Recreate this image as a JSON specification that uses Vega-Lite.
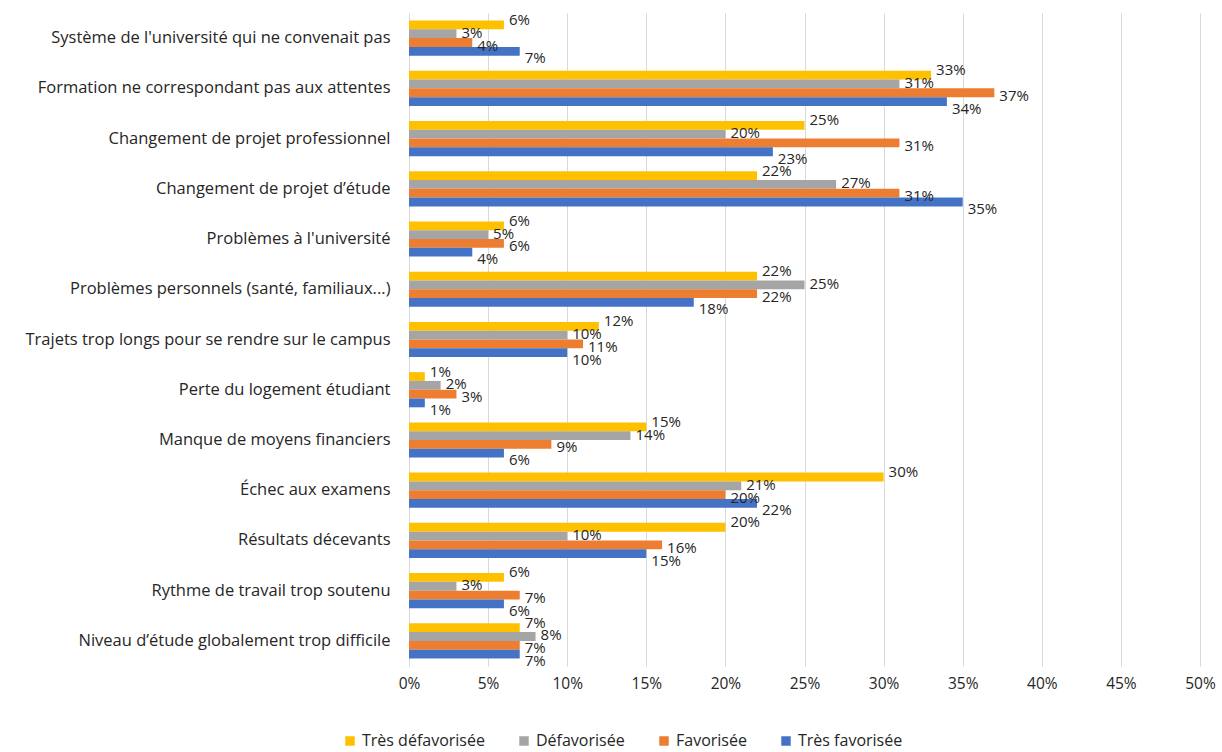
{
  "$schema": "https://vega.github.io/schema/vega-lite/v6.json",
  "autosize": "none",
  "width": 791,
  "height": 653,
  "padding": {"left": 409, "top": 13, "right": 22, "bottom": 86},
  "background": "white",
  "config": {
    "font": "Open Sans",
    "view": {"stroke": null}
  },
  "datasets": {
    "raw": [
      {"motif": "Système de l'université qui ne convenait pas", "groupe": "Très défavorisée", "valeur": 0.06},
      {"motif": "Système de l'université qui ne convenait pas", "groupe": "Défavorisée", "valeur": 0.03},
      {"motif": "Système de l'université qui ne convenait pas", "groupe": "Favorisée", "valeur": 0.04},
      {"motif": "Système de l'université qui ne convenait pas", "groupe": "Très favorisée", "valeur": 0.07},
      {"motif": "Formation ne correspondant pas aux attentes", "groupe": "Très défavorisée", "valeur": 0.33},
      {"motif": "Formation ne correspondant pas aux attentes", "groupe": "Défavorisée", "valeur": 0.31},
      {"motif": "Formation ne correspondant pas aux attentes", "groupe": "Favorisée", "valeur": 0.37},
      {"motif": "Formation ne correspondant pas aux attentes", "groupe": "Très favorisée", "valeur": 0.34},
      {"motif": "Changement de projet professionnel", "groupe": "Très défavorisée", "valeur": 0.25},
      {"motif": "Changement de projet professionnel", "groupe": "Défavorisée", "valeur": 0.20},
      {"motif": "Changement de projet professionnel", "groupe": "Favorisée", "valeur": 0.31},
      {"motif": "Changement de projet professionnel", "groupe": "Très favorisée", "valeur": 0.23},
      {"motif": "Changement de projet d’étude", "groupe": "Très défavorisée", "valeur": 0.22},
      {"motif": "Changement de projet d’étude", "groupe": "Défavorisée", "valeur": 0.27},
      {"motif": "Changement de projet d’étude", "groupe": "Favorisée", "valeur": 0.31},
      {"motif": "Changement de projet d’étude", "groupe": "Très favorisée", "valeur": 0.35},
      {"motif": "Problèmes à l'université", "groupe": "Très défavorisée", "valeur": 0.06},
      {"motif": "Problèmes à l'université", "groupe": "Défavorisée", "valeur": 0.05},
      {"motif": "Problèmes à l'université", "groupe": "Favorisée", "valeur": 0.06},
      {"motif": "Problèmes à l'université", "groupe": "Très favorisée", "valeur": 0.04},
      {"motif": "Problèmes personnels (santé, familiaux...)", "groupe": "Très défavorisée", "valeur": 0.22},
      {"motif": "Problèmes personnels (santé, familiaux...)", "groupe": "Défavorisée", "valeur": 0.25},
      {"motif": "Problèmes personnels (santé, familiaux...)", "groupe": "Favorisée", "valeur": 0.22},
      {"motif": "Problèmes personnels (santé, familiaux...)", "groupe": "Très favorisée", "valeur": 0.18},
      {"motif": "Trajets trop longs pour se rendre sur le campus", "groupe": "Très défavorisée", "valeur": 0.12},
      {"motif": "Trajets trop longs pour se rendre sur le campus", "groupe": "Défavorisée", "valeur": 0.10},
      {"motif": "Trajets trop longs pour se rendre sur le campus", "groupe": "Favorisée", "valeur": 0.11},
      {"motif": "Trajets trop longs pour se rendre sur le campus", "groupe": "Très favorisée", "valeur": 0.10},
      {"motif": "Perte du logement étudiant", "groupe": "Très défavorisée", "valeur": 0.01},
      {"motif": "Perte du logement étudiant", "groupe": "Défavorisée", "valeur": 0.02},
      {"motif": "Perte du logement étudiant", "groupe": "Favorisée", "valeur": 0.03},
      {"motif": "Perte du logement étudiant", "groupe": "Très favorisée", "valeur": 0.01},
      {"motif": "Manque de moyens financiers", "groupe": "Très défavorisée", "valeur": 0.15},
      {"motif": "Manque de moyens financiers", "groupe": "Défavorisée", "valeur": 0.14},
      {"motif": "Manque de moyens financiers", "groupe": "Favorisée", "valeur": 0.09},
      {"motif": "Manque de moyens financiers", "groupe": "Très favorisée", "valeur": 0.06},
      {"motif": "Échec aux examens", "groupe": "Très défavorisée", "valeur": 0.30},
      {"motif": "Échec aux examens", "groupe": "Défavorisée", "valeur": 0.21},
      {"motif": "Échec aux examens", "groupe": "Favorisée", "valeur": 0.20},
      {"motif": "Échec aux examens", "groupe": "Très favorisée", "valeur": 0.22},
      {"motif": "Résultats décevants", "groupe": "Très défavorisée", "valeur": 0.20},
      {"motif": "Résultats décevants", "groupe": "Défavorisée", "valeur": 0.10},
      {"motif": "Résultats décevants", "groupe": "Favorisée", "valeur": 0.16},
      {"motif": "Résultats décevants", "groupe": "Très favorisée", "valeur": 0.15},
      {"motif": "Rythme de travail trop soutenu", "groupe": "Très défavorisée", "valeur": 0.06},
      {"motif": "Rythme de travail trop soutenu", "groupe": "Défavorisée", "valeur": 0.03},
      {"motif": "Rythme de travail trop soutenu", "groupe": "Favorisée", "valeur": 0.07},
      {"motif": "Rythme de travail trop soutenu", "groupe": "Très favorisée", "valeur": 0.06},
      {"motif": "Niveau d’étude globalement trop difficile", "groupe": "Très défavorisée", "valeur": 0.07},
      {"motif": "Niveau d’étude globalement trop difficile", "groupe": "Défavorisée", "valeur": 0.08},
      {"motif": "Niveau d’étude globalement trop difficile", "groupe": "Favorisée", "valeur": 0.07},
      {"motif": "Niveau d’étude globalement trop difficile", "groupe": "Très favorisée", "valeur": 0.07}
    ]
  },
  "data": {"name": "raw"},
  "encoding": {
    "y": {
      "field": "motif",
      "type": "nominal",
      "sort": null,
      "scale": {"paddingInner": 0.3, "paddingOuter": 0.15},
      "axis": {
        "title": null,
        "ticks": false,
        "domain": false,
        "labelFontSize": 16.5,
        "labelColor": "#262626",
        "labelPadding": 19,
        "labelLimit": 420
      }
    },
    "yOffset": {
      "field": "groupe",
      "type": "nominal",
      "sort": ["Très défavorisée", "Défavorisée", "Favorisée", "Très favorisée"]
    },
    "x": {
      "field": "valeur",
      "type": "quantitative",
      "scale": {"domain": [0, 0.5], "nice": false},
      "axis": {
        "title": null,
        "format": ".0%",
        "values": [0, 0.05, 0.1, 0.15, 0.2, 0.25, 0.3, 0.35, 0.4, 0.45, 0.5],
        "labelOverlap": false,
        "labelFlush": false,
        "ticks": false,
        "domain": false,
        "grid": true,
        "gridColor": "#D9D9D9",
        "gridWidth": 1,
        "labelFontSize": 15.5,
        "labelColor": "#262626",
        "labelPadding": 10
      }
    }
  },
  "layer": [
    {
      "mark": {"type": "bar"},
      "encoding": {
        "color": {
          "field": "groupe",
          "type": "nominal",
          "sort": ["Très défavorisée", "Défavorisée", "Favorisée", "Très favorisée"],
          "scale": {
            "domain": ["Très défavorisée", "Défavorisée", "Favorisée", "Très favorisée"],
            "range": ["#FFC000", "#A5A5A5", "#ED7D31", "#4472C4"]
          },
          "legend": {
            "title": null,
            "orient": "none",
            "direction": "horizontal",
            "legendX": -67,
            "legendY": 720,
            "symbolType": "square",
            "symbolSize": 90,
            "symbolStrokeWidth": 0,
            "labelFontSize": 16,
            "labelColor": "#262626",
            "columnPadding": 31,
            "labelOffset": 4
          }
        }
      }
    },
    {
      "transform": [{"filter": "datum.groupe === 'Très défavorisée'"}],
      "mark": {"type": "text", "align": "left", "baseline": "middle", "dx": 5, "dy": -5, "fontSize": 15, "color": "#262626"},
      "encoding": {
        "text": {"field": "valeur", "type": "quantitative", "format": ".0%"}
      }
    },
    {
      "transform": [{"filter": "datum.groupe === 'Défavorisée'"}],
      "mark": {"type": "text", "align": "left", "baseline": "middle", "dx": 5, "dy": -1, "fontSize": 15, "color": "#262626"},
      "encoding": {
        "text": {"field": "valeur", "type": "quantitative", "format": ".0%"}
      }
    },
    {
      "transform": [{"filter": "datum.groupe === 'Favorisée'"}],
      "mark": {"type": "text", "align": "left", "baseline": "middle", "dx": 5, "dy": 3, "fontSize": 15, "color": "#262626"},
      "encoding": {
        "text": {"field": "valeur", "type": "quantitative", "format": ".0%"}
      }
    },
    {
      "transform": [{"filter": "datum.groupe === 'Très favorisée'"}],
      "mark": {"type": "text", "align": "left", "baseline": "middle", "dx": 5, "dy": 7, "fontSize": 15, "color": "#262626"},
      "encoding": {
        "text": {"field": "valeur", "type": "quantitative", "format": ".0%"}
      }
    },
    {
      "mark": {"type": "rule", "color": "#BFBFBF", "strokeWidth": 1},
      "encoding": {"x": {"datum": 0}}
    }
  ]
}
